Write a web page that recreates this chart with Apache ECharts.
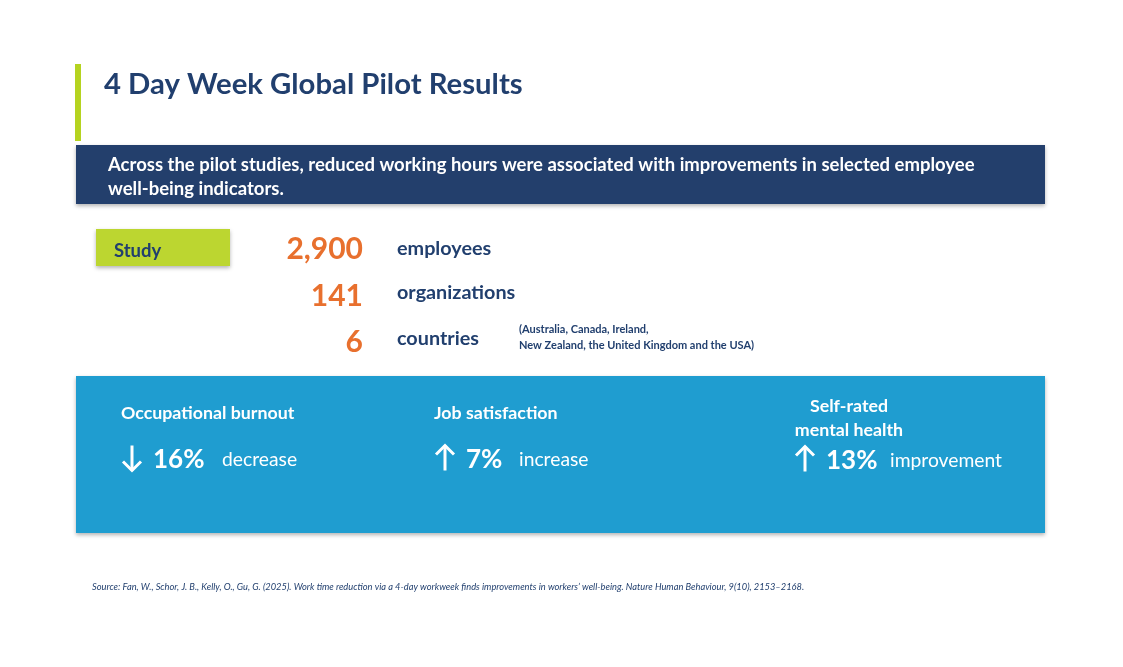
<!DOCTYPE html>
<html><head><meta charset="utf-8">
<script src="https://cdn.jsdelivr.net/npm/echarts@6/dist/echarts.min.js"></script>
<style>html,body{margin:0;padding:0;background:#fff}#c{width:1123px;height:667px}</style>
</head><body><div id="c"></div>
<script>
var title = '4 Day Week Global Pilot Results';
var bannerLines = ['Across the pilot studies, reduced working hours were associated with improvements in selected employee', 'well-being indicators.'];
var studyLabel = 'Study';
var studyValues = [2900, 141, 6];
var studyUnits = ['employees', 'organizations', 'countries'];
var countryNote = ['(Australia, Canada, Ireland,', 'New Zealand, the United Kingdom and the USA)'];
var metricNames = [['Occupational burnout'], ['Job satisfaction'], ['Self-rated', 'mental health']];
var metricValues = [16, 7, 13];
var metricDirections = ['down', 'up', 'up'];
var metricWords = ['decrease', 'increase', 'improvement'];
var source = 'Source: Fan, W., Schor, J. B., Kelly, O., Gu, G. (2025). Work time reduction via a 4-day workweek finds improvements in workers\u2019 well-being. Nature Human Behaviour, 9(10), 2153\u20132168.';

var FONT = 'Lato, "Noto Sans", sans-serif';
var NAVY = '#213f6e';
var els = [];
function txt(x, y, s, o) {
  o = o || {};
  els.push({type: 'text', x: x, y: y, style: {
    text: s, fill: o.fill || NAVY, font: (o.italic ? 'italic ' : '') + (o.weight || 'bold') + ' ' + o.size + 'px ' + (o.family || FONT),
    textAlign: o.align || 'left', textVerticalAlign: 'middle'
  }});
}
function arrowIcon(cx, cy, dir) {
  var s = dir === 'down' ? 1 : -1;
  var g = {type: 'group', x: cx, y: cy, children: [
    {type: 'line', shape: {x1: 0, y1: -12.5 * s, x2: 0, y2: 12.5 * s}, style: {stroke: '#fff', lineWidth: 3}},
    {type: 'polyline', shape: {points: [[-9, 3.5 * s], [0, 12.5 * s], [9, 3.5 * s]]}, style: {stroke: '#fff', lineWidth: 3, fill: null, lineJoin: 'miter'}}
  ]};
  els.push(g);
}
// accent bar
els.push({type: 'rect', shape: {x: 75, y: 64, width: 6, height: 77}, style: {fill: '#b5d320'}});
txt(104, 85, title, {size: 29.3});
// banner
els.push({type: 'rect', shape: {x: 76, y: 145, width: 969, height: 59}, style: {fill: '#233f6c', shadowBlur: 4, shadowOffsetY: 2, shadowColor: 'rgba(0,0,0,0.3)'}});
bannerLines.forEach(function (l, i) { txt(108, 165 + i * 24, l, {size: 18.5, fill: '#ffffff'}); });
// study box
els.push({type: 'rect', shape: {x: 96, y: 229, width: 134, height: 37}, style: {fill: '#bcd630', shadowBlur: 4, shadowOffsetY: 2, shadowColor: 'rgba(0,0,0,0.3)'}});
txt(114, 251, studyLabel, {size: 18.5});
var rowY = [249, 296, 342];
studyValues.forEach(function (v, i) {
  txt(363, rowY[i], v.toLocaleString('en-US'), {size: 30, fill: '#e8702e', align: 'right'});
  txt(397, rowY[i] - (i ? 3 : 0), studyUnits[i], {size: 19.8});
});
countryNote.forEach(function (l, i) { txt(519, 329 + i * 16, l, {size: 11}); });
// blue panel
els.push({type: 'rect', shape: {x: 76, y: 376, width: 969, height: 157}, style: {fill: '#1f9dd0', shadowBlur: 4, shadowOffsetY: 2, shadowColor: 'rgba(0,0,0,0.3)'}});
var colX = [121, 434, 794];
metricNames.forEach(function (n, i) {
  if (n.length === 1) {
    txt(colX[i], 413, n[0], {size: 17.8, fill: '#ffffff'});
  } else {
    txt(849, 406, n[0], {size: 17.8, fill: '#ffffff', align: 'center'});
    txt(849, 430, n[1], {size: 17.8, fill: '#ffffff', align: 'center'});
  }
  var vy = i === 2 ? 461 : 460;
  arrowIcon(colX[i] + 11, vy - 2, metricDirections[i]);
  txt(colX[i] + 32, vy, metricValues[i] + '%', {size: 26, fill: '#ffffff'});
  var wx = [222, 519, 890][i];
  txt(wx, vy, metricWords[i], {size: 19.3, fill: '#ffffff', weight: 'normal'});
});
txt(92, 587, source, {size: 9.3, italic: true, weight: 'normal'});

var chart = echarts.init(document.getElementById('c'));
chart.setOption({backgroundColor: '#ffffff', graphic: {elements: els}});
</script></body></html>
